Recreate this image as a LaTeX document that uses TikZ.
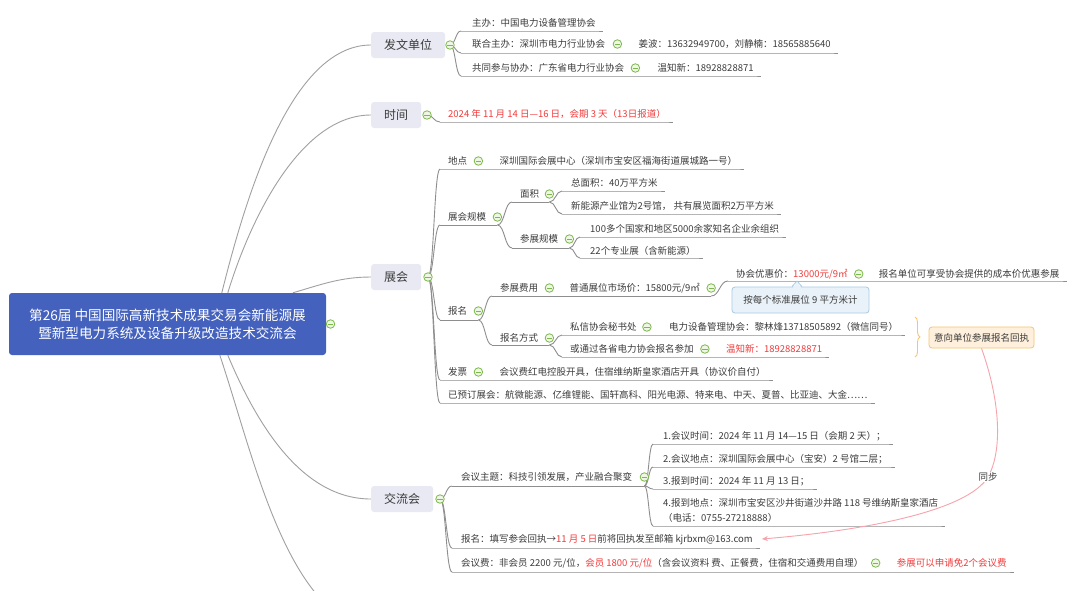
\documentclass[tikz,border=0pt]{standalone}
\usepackage{fontspec}
\setmainfont{Noto Sans CJK SC}
\usetikzlibrary{calc,arrows.meta,decorations.pathreplacing}
\definecolor{tc}{HTML}{3C3C3C}
\definecolor{rc}{HTML}{F23B3B}
\definecolor{lc}{HTML}{8E8E8E}
\definecolor{rlc}{HTML}{A0A0A0}
\definecolor{lf}{HTML}{E8E9F3}
\definecolor{rootf}{HTML}{4361BD}
\definecolor{gc}{HTML}{7DB84A}
\definecolor{gf}{HTML}{EEF7E6}
\definecolor{cof}{HTML}{EAF2F9}
\definecolor{cod}{HTML}{A6CAE3}
\definecolor{orf}{HTML}{FEF0DC}
\definecolor{ord}{HTML}{F5C66E}
\definecolor{pkc}{HTML}{F6A3AC}
\pgfdeclarelayer{bg}
\pgfsetlayers{bg,main}
\newcommand\fs{\fontsize{9.5}{11}\selectfont}
\newcommand\rd[1]{\textcolor{rc}{#1}}
\newcommand\brc[2]{\draw[ln] let \p1=(#1), \p2=(#2) in (\p1) .. controls ({0.5*\x1+0.5*\x2},\y1) and ({0.5*\x1+0.5*\x2},\y2) .. (\p2);}
\newcommand\ul[2]{\draw[ln] (#1) -- (#1 -| #2.east) -- +(7,0);}
\begin{document}
\begin{tikzpicture}[x=1pt,y=-1pt,
 txt/.style={anchor=west,inner sep=0pt,text=tc,font=\fs,text height=8pt,text depth=1pt},
 l1/.style={anchor=west,fill=lf,rounded corners=3pt,text=tc,font=\fontsize{12}{14}\selectfont,minimum height=26pt,inner xsep=13pt,inner ysep=0pt,text height=10pt,text depth=2pt},
 ic/.style={circle,draw=gc,fill=gf,line width=0.8pt,minimum size=8.5pt,inner sep=0pt,path picture={\draw[gc,line width=0.9pt] ([xshift=-2.6pt]path picture bounding box.center) -- ([xshift=2.6pt]path picture bounding box.center);}},
 ln/.style={draw=lc,line width=0.9pt},
 rl/.style={draw=rlc,line width=0.9pt}]
\useasboundingbox (0,0) rectangle (1080,590);
\begin{pgfonlayer}{bg}
\fill[white] (0,0) rectangle (1080,590);
\end{pgfonlayer}

% root
\node[fill=rootf,rounded corners=3pt,minimum width=317pt,minimum height=62pt,align=center,text=white,font=\fontsize{13.6}{18}\selectfont,inner sep=0pt] (root) at (167.5,324) {第26届 中国国际高新技术成果交易会新能源展\\暨新型电力系统及设备升级改造技术交流会};
\node[ic] (i0) at (330.5,324) {};

% 发文单位
\node[l1] (n1) at (371,45) {发文单位};
\node[ic] (i1) at (450,45) {};
\coordinate (u11) at (461,31);
\coordinate (u12) at (461,53);
\coordinate (u13) at (461,76);
\node[txt] (t11) at (472,23) {主办：中国电力设备管理协会};
\node[txt] (t12) at (472,44) {联合主办：深圳市电力行业协会};
\node[ic] (i12) at ([xshift=12pt]t12.east) {};
\node[txt] (t12b) at ([xshift=21pt]i12.center) {姜波：13632949700，刘静楠：18565885640};
\node[txt] (t13) at (472,68) {共同参与协办：广东省电力行业协会};
\node[ic] (i13) at ([xshift=11pt]t13.east) {};
\node[txt] (t13b) at ([xshift=22pt]i13.center) {温知新：18928828871};

% 时间
\node[l1] (n2) at (371,115) {时间};
\node[ic] (i2) at (427,115) {};
\coordinate (u21) at (440,122);
\node[txt,text=rc] (t21) at (448,114) {2024 年 11 月 14 日—16 日，会期 3 天（13日报道）};

% 展会
\node[l1] (n3) at (371,277) {展会};
\node[ic] (i3) at (428,277) {};
\coordinate (u31) at (440,169);
\coordinate (u32) at (440,225);
\coordinate (u33) at (440,320);
\coordinate (u34) at (440,380);
\coordinate (u35) at (440,403);
\node[txt] (t31) at (448,161) {地点};
\node[ic] (i31) at ([xshift=11pt]t31.east) {};
\node[txt] (t31b) at ([xshift=21pt]i31.center) {深圳国际会展中心（深圳市宝安区福海街道展城路一号）};
\node[txt] (t32) at (448,217) {展会规模};
\node[ic] (i32) at ([xshift=11pt]t32.east) {};
\coordinate (u321) at (512,202);
\coordinate (u322) at (512,248);
\node[txt] (t321) at (520,194) {面积};
\node[ic] (i321) at ([xshift=10pt]t321.east) {};
\coordinate (u3211) at (562,191);
\coordinate (u3212) at (562,214);
\node[txt] (t3211) at (571,183) {总面积：40万平方米};
\node[txt] (t3212) at (571,206) {新能源产业馆为2号馆， 共有展览面积2万平方米};
\node[txt] (t322) at (520,239) {参展规模};
\node[ic] (i322) at ([xshift=11pt]t322.east) {};
\coordinate (u3221) at (580,237);
\coordinate (u3222) at (580,258);
\node[txt] (t3221) at (590,229) {100多个国家和地区5000余家知名企业余组织};
\node[txt] (t3222) at (590,251) {22个专业展（含新能源）};
\node[txt] (t33) at (448,311) {报名};
\node[ic] (i33) at ([xshift=11pt]t33.east) {};
\coordinate (u331) at (492,296);
\coordinate (u332) at (492,345);
\node[txt] (t331) at (500,288) {参展费用};
\node[ic] (i331) at ([xshift=11pt]t331.east) {};
\node[txt] (t331b) at ([xshift=20pt]i331.center) {普通展位市场价：15800元/9㎡};
\node[ic] (i331b) at ([xshift=11pt]t331b.east) {};
\coordinate (u3311) at (728,281);
\node[txt] (t3311) at (736,274) {协会优惠价：\rd{13000元/9㎡}};
\node[ic] (i3311) at ([xshift=11pt]t3311.east) {};
\node[txt] (t3311b) at ([xshift=20pt]i3311.center) {报名单位可享受协会提供的成本价优惠参展};
\node[fill=cof,draw=cod,rounded corners=3pt,line width=0.8pt,minimum width=137pt,minimum height=26pt,inner sep=0pt,text=tc,font=\fs] (co) at (800.5,300) {按每个标准展位 9 平方米计};
\draw[cod,line width=0.8pt] ([xshift=-8.5pt]co.north) -- ([xshift=-3.5pt,yshift=5.5pt]co.north) -- ([xshift=1.5pt]co.north);
\fill[cof] ([xshift=-7.5pt,yshift=-1.2pt]co.north) -- ([xshift=-3.5pt,yshift=4pt]co.north) -- ([xshift=0.5pt,yshift=-1.2pt]co.north) -- cycle;
\node[txt] (t332) at (500,338) {报名方式};
\node[ic] (i332) at ([xshift=11pt]t332.east) {};
\coordinate (u3321) at (562,335);
\coordinate (u3322) at (562,357);
\node[txt] (t3321) at (570,327) {私信协会秘书处};
\node[ic] (i3321) at ([xshift=10pt]t3321.east) {};
\node[txt] (t3321b) at ([xshift=22pt]i3321.center) {电力设备管理协会：黎林烽13718505892（微信同号）};
\node[txt] (t3322) at (570,349) {或通过各省电力协会报名参加};
\node[ic] (i3322) at ([xshift=11pt]t3322.east) {};
\node[txt,text=rc] (t3322b) at ([xshift=21pt]i3322.center) {温知新：18928828871};
\node[txt] (t34) at (448,372) {发票};
\node[ic] (i34) at ([xshift=11pt]t34.east) {};
\node[txt] (t34b) at ([xshift=21pt]i34.center) {会议费红电控股开具，住宿维纳斯皇家酒店开具（协议价自付）};
\node[txt] (t35) at (448,395) {已预订展会：航微能源、亿维锂能、国轩高科、阳光电源、特来电、中天、夏普、比亚迪、大金……};

% summary brace and box
\coordinate (bt) at (915,317);
\coordinate (bb) at (915,357);
\draw[ord,line width=0.9pt,decorate,decoration={brace,amplitude=5pt}] (bt) -- (bb);
\node[fill=orf,draw=ord,rounded corners=3pt,line width=0.8pt,minimum width=105pt,minimum height=21pt,inner sep=0pt,text=tc,font=\fs] (yx) at (981.5,337.5) {意向单位参展报名回执};

% 交流会
\node[l1] (n4) at (371,499) {交流会};
\node[ic] (i4) at (440,499) {};
\coordinate (u41) at (452,486);
\coordinate (u42) at (452,548);
\coordinate (u43) at (452,572);
\node[txt] (t41) at (461,477) {会议主题：科技引领发展，产业融合聚变};
\node[ic] (i41) at ([xshift=12pt]t41.east) {};
\coordinate (u411) at (653,444);
\coordinate (u412) at (653,467);
\coordinate (u413) at (653,489);
\coordinate (u414) at (653,526);
\node[txt] (t411) at (663,436) {1.会议时间：2024 年 11 月 14—15 日（会期 2 天）；};
\node[txt] (t412) at (663,459) {2.会议地点：深圳国际会展中心（宝安）2 号馆二层；};
\node[txt] (t413) at (663,481) {3.报到时间：2024 年 11 月 13 日；};
\node[txt] (t414) at (663,503) {4.报到地点：深圳市宝安区沙井街道沙井路 118 号维纳斯皇家酒店};
\node[txt] (t414b) at (663,518) {（电话：0755-27218888）};
\node[txt] (t42) at (461,539) {报名：填写参会回执→\rd{11 月 5 日}前将回执发至邮箱 kjrbxm@163.com};
\node[txt] (t43) at (461,563) {会议费：非会员 2200 元/位，\rd{会员 1800 元/位}（含会议资料 费、正餐费，住宿和交通费用自理）};
\node[ic] (i43) at ([xshift=12pt]t43.east) {};
\node[txt,text=rc] (t43b) at ([xshift=21pt]i43.center) {参展可以申请免2个会议费};

% sync arrow
\coordinate (sy) at (988,477);
\coordinate (ae) at ([xshift=9pt]t42.east);
\draw[pkc,line width=0.9pt,-{Stealth[length=6pt,width=5pt]}] (yx.south) .. controls (1000,400) and (1003,450) .. (sy) .. controls (968,510) and (870,530) .. (ae);
\node[fill=white,inner sep=1pt,text=tc,font=\fs] (syl) at (sy) {同步};

\begin{pgfonlayer}{bg}
\draw[rl] (root.north west) ++(213,0) .. controls (245,200) and (290,45) .. (n1.west);
\draw[rl] (root.north west) ++(219,0) .. controls (250,220) and (300,115) .. (n2.west);
\draw[rl] (root.north west) ++(284,0) .. controls (320,285) and (340,277) .. (n3.west);
\draw[rl] (root.south west) ++(219,0) .. controls (255,420) and (300,499) .. (n4.west);
\coordinate (off) at (318,596);
\draw[rl] (root.south west) ++(211,0) .. controls (245,430) and (270,540) .. (off);
\brc{i1}{u11} \brc{i1}{u12} \brc{i1}{u13}
\ul{u11}{t11} \ul{u12}{t12b} \ul{u13}{t13b}
\brc{i2}{u21} \ul{u21}{t21}
\brc{i3}{u31} \brc{i3}{u32} \brc{i3}{u33} \brc{i3}{u34} \brc{i3}{u35}
\ul{u31}{t31b}
\coordinate (b32) at (i32 |- u32);
\draw[ln] (u32) -- (b32);
\brc{b32}{u321} \brc{b32}{u322}
\coordinate (b321) at (i321 |- u321);
\draw[ln] (u321) -- (b321);
\brc{b321}{u3211} \brc{b321}{u3212}
\ul{u3211}{t3211} \ul{u3212}{t3212}
\coordinate (b322) at (i322 |- u322);
\draw[ln] (u322) -- (b322);
\brc{b322}{u3221} \brc{b322}{u3222}
\ul{u3221}{t3221} \ul{u3222}{t3222}
\coordinate (b33) at (i33 |- u33);
\draw[ln] (u33) -- (b33);
\brc{b33}{u331} \brc{b33}{u332}
\coordinate (b331) at (i331b |- u331);
\draw[ln] (u331) -- (b331);
\brc{b331}{u3311}
\ul{u3311}{t3311b}
\coordinate (b332) at (i332 |- u332);
\draw[ln] (u332) -- (b332);
\brc{b332}{u3321} \brc{b332}{u3322}
\ul{u3321}{t3321b} \ul{u3322}{t3322b}
\ul{u34}{t34b} \ul{u35}{t35}
\brc{i4}{u41} \brc{i4}{u42} \brc{i4}{u43}
\coordinate (b41) at (i41 |- u41);
\draw[ln] (u41) -- (b41);
\brc{b41}{u411} \brc{b41}{u412} \brc{b41}{u413} \brc{b41}{u414}
\ul{u411}{t411} \ul{u412}{t412} \ul{u413}{t413} \ul{u414}{t414}
\ul{u42}{t42} \ul{u43}{t43b}
\end{pgfonlayer}
\end{tikzpicture}
\end{document}
